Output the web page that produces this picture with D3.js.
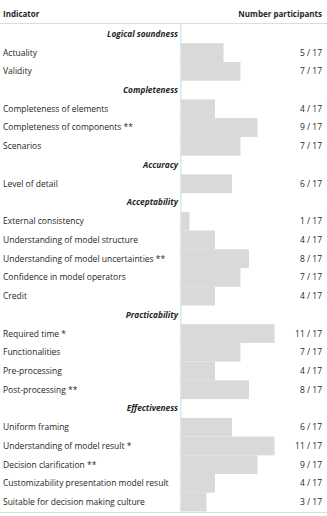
<!DOCTYPE html>
<html>
<head>
<meta charset="utf-8">
<script src="https://cdn.jsdelivr.net/npm/d3@7"></script>
<style>
  body { margin: 0; background: #fff; }
  text { font-family: "Open Sans", sans-serif; fill: #262626; }
</style>
</head>
<body>
<div id="chart"></div>
<script>
// chart data
var groups = ["Logical soundness", "Completeness", "Accuracy", "Acceptability", "Practicability", "Effectiveness"];
var indicators = [
  "Actuality", "Validity",
  "Completeness of elements", "Completeness of components **", "Scenarios",
  "Level of detail",
  "External consistency", "Understanding of model structure", "Understanding of model uncertainties **",
  "Confidence in model operators", "Credit",
  "Required time *", "Functionalities", "Pre-processing", "Post-processing **",
  "Uniform framing", "Understanding of model result *", "Decision clarification **",
  "Customizability presentation model result", "Suitable for decision making culture"
];
var indicatorGroup = [0, 0, 1, 1, 1, 2, 3, 3, 3, 3, 3, 4, 4, 4, 4, 5, 5, 5, 5, 5];
var counts = [5, 7, 4, 9, 7, 6, 1, 4, 8, 7, 4, 11, 7, 4, 8, 6, 11, 9, 4, 3];
var total = 17;

var svgWidth = 327;
var svgHeight = 516;
var lineColor = "#cfe4e0";

// build rows: group header followed by its indicators
var rows = [];
groups.forEach(function (g, gi) {
  rows.push({ type: "group", label: g });
  indicators.forEach(function (name, i) {
    if (indicatorGroup[i] === gi) {
      rows.push({ type: "item", label: name, value: counts[i] });
    }
  });
});
rows.forEach(function (r, i) { r.idx = i; });

var svg = d3.select("#chart")
  .append("svg")
  .attr("width", svgWidth)
  .attr("height", svgHeight);

var yScale = d3.scaleBand()
  .domain(rows.map(function (r) { return r.idx; }))
  .range([24.5, 511.5])
  .padding(0);

var xScale = d3.scaleLinear()
  .domain([0, total])
  .range([181, 325.5]);

// header
svg.append("text")
  .attr("x", 3)
  .attr("y", 17)
  .attr("font-size", 8)
  .attr("font-weight", "bold")
  .text("Indicator");

svg.append("text")
  .attr("x", 322)
  .attr("y", 17)
  .attr("text-anchor", "end")
  .attr("font-size", 8)
  .attr("font-weight", "bold")
  .text("Number participants");

// bars
var items = rows.filter(function (r) { return r.type === "item"; });

svg.selectAll("rect.bar")
  .data(items)
  .enter()
  .append("rect")
  .attr("class", "bar")
  .attr("x", xScale(0))
  .attr("y", function (d) { return yScale(d.idx); })
  .attr("width", function (d) { return xScale(d.value) - xScale(0); })
  .attr("height", yScale.bandwidth())
  .attr("fill", "#d9d9d9");

// indicator labels
svg.selectAll("text.label")
  .data(items)
  .enter()
  .append("text")
  .attr("class", "label")
  .attr("x", 3)
  .attr("y", function (d) { return yScale(d.idx) + yScale.bandwidth() / 2; })
  .attr("dy", "0.35em")
  .attr("font-size", 8.5)
  .text(function (d) { return d.label; });

// count labels
svg.selectAll("text.count")
  .data(items)
  .enter()
  .append("text")
  .attr("class", "count")
  .attr("x", 322)
  .attr("y", function (d) { return yScale(d.idx) + yScale.bandwidth() / 2; })
  .attr("dy", "0.35em")
  .attr("text-anchor", "end")
  .attr("font-size", 8.5)
  .text(function (d) { return d.value + " / " + total; });

// group headers
svg.selectAll("text.group")
  .data(rows.filter(function (r) { return r.type === "group"; }))
  .enter()
  .append("text")
  .attr("class", "group")
  .attr("x", 178)
  .attr("y", function (d) { return yScale(d.idx) + yScale.bandwidth() / 2; })
  .attr("dy", "0.35em")
  .attr("text-anchor", "end")
  .attr("font-size", 8.3)
  .attr("font-weight", "bold")
  .attr("font-style", "italic")
  .text(function (d) { return d.label; });

// rules
svg.append("line")
  .attr("x1", 0).attr("x2", svgWidth)
  .attr("y1", 23.5).attr("y2", 23.5)
  .attr("stroke", lineColor).attr("stroke-width", 1.2);

svg.append("line")
  .attr("x1", 0).attr("x2", svgWidth)
  .attr("y1", 512.5).attr("y2", 512.5)
  .attr("stroke", lineColor).attr("stroke-width", 1.2);

svg.append("line")
  .attr("x1", 180.8).attr("x2", 180.8)
  .attr("y1", 23.5).attr("y2", 512.5)
  .attr("stroke", lineColor).attr("stroke-width", 1.2);
</script>
</body>
</html>
